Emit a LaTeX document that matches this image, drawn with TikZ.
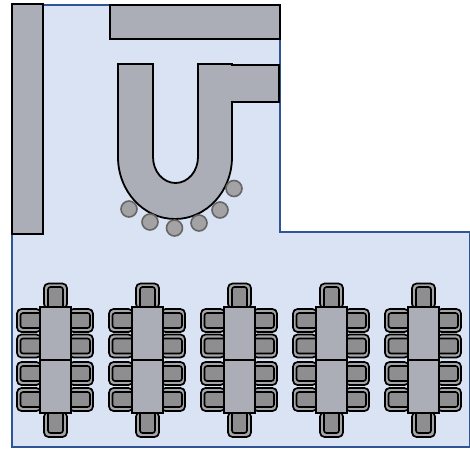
\documentclass[tikz,border=0pt]{standalone}
\usepackage{tikz}
\usetikzlibrary{calc, positioning}

\definecolor{roomblue}{HTML}{DAE3F3}
\definecolor{wallblue}{HTML}{2F5597}
\definecolor{benchgray}{HTML}{ABAEB6}
\definecolor{seatgray}{HTML}{8E8E90}
\definecolor{backgray}{HTML}{A6A6A8}
\definecolor{stoolgray}{HTML}{A3A3A5}

\begin{document}
\begin{tikzpicture}[x=1pt, y=-1pt]
    % Define styles locally
    \tikzstyle{bench} = [draw=black, line width=1.8pt, fill=benchgray]
    \tikzstyle{tablebox} = [bench, rectangle, line width=2pt, minimum width=31pt, minimum height=53pt, inner sep=0pt, outer sep=0pt]
    \tikzstyle{chairback} = [draw=black, line width=1.7pt, fill=backgray, rounded corners=4.5pt, inner sep=0pt, outer sep=0pt]
    \tikzstyle{chairseat} = [draw=black, line width=1.6pt, fill=seatgray, rounded corners=2.5pt, inner sep=0pt, outer sep=0pt]
    \tikzstyle{stool} = [circle, draw=black!60, line width=1.6pt, fill=stoolgray, minimum size=16pt, inner sep=0pt]

    \useasboundingbox (0,0) rectangle (470,448);

    % Room
    \draw[draw=wallblue, line width=2.2pt, fill=roomblue]
        (12,5) -- (280,5) -- (280,232) -- (470,232) -- (470,447) -- (12,447) -- cycle;

    % Counters along the walls
    \draw[bench, line width=2.2pt] (12,4) rectangle (43,234);
    \draw[bench] (110,5) rectangle (280,39);

    % Bar
    \draw[bench] (118,64) -- (153,64) -- (153,157)
        arc[start angle=180, end angle=360, x radius=22.5, y radius=-26]
        -- (198,64) -- (232,64) -- (232,65) -- (279,65) -- (279,102) -- (232,102) -- (232,157)
        arc[start angle=0, end angle=180, x radius=57, y radius=62] -- cycle;

    % Stools
    \foreach \name/\px/\py in {a/129/209, b/150/222, c/174.5/228, d/199/223, e/220/210, f/234/188.5}
        \node[stool] (stool\name) at (\px,\py) {};

    % Tables with chairs
    \foreach \col/\tx in {1/55.5, 2/147.5, 3/239.5, 4/331.5, 5/423.5} {
        % Chairs at the ends
        \node[chairback, minimum width=23pt, minimum height=25pt] (top\col) at (\tx,296) {};
        \node[chairseat, minimum width=15pt, minimum height=22pt] at (\tx,298) {};
        \node[chairback, minimum width=23pt, minimum height=25pt] (bot\col) at (\tx,424.5) {};
        \node[chairseat, minimum width=15pt, minimum height=22pt] at (\tx,422) {};
        % Chairs along the sides
        \foreach \row/\cy in {1/320.5, 2/346, 3/373.5, 4/399.5} {
            \node[chairback, minimum width=24pt, minimum height=23pt] (left\col\row) at ($(\tx,\cy)+(-26.5,0)$) {};
            \node[chairseat, minimum width=22pt, minimum height=15pt] at ($(\tx,\cy)+(-24,0)$) {};
            \node[chairback, minimum width=24pt, minimum height=23pt] (right\col\row) at ($(\tx,\cy)+(25.5,0)$) {};
            \node[chairseat, minimum width=22pt, minimum height=15pt] at ($(\tx,\cy)+(23.5,0)$) {};
        }
        % Table tops
        \node[tablebox] (upper\col) at (\tx,333.5) {};
        \node[tablebox, below=0pt of upper\col] (lower\col) {};
    }
\end{tikzpicture}
\end{document}
